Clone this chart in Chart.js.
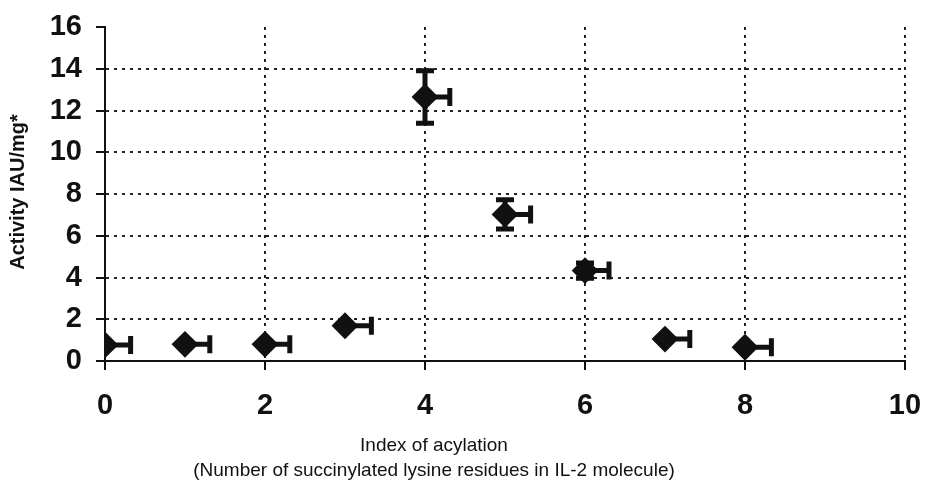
<!DOCTYPE html>
<html lang="en">
<head>
  <meta charset="UTF-8">
  <title>Activity vs index of acylation</title>
  <script src="https://cdn.jsdelivr.net/npm/chart.js"></script>
  <style>
    body {
      margin: 0;
      background: #fff;
    }
    canvas {
      display: block;
    }
  </style>
</head>
<body>
  <canvas id="activityChart" width="927" height="483"></canvas>

  <script>
    // values
    const acylationIndex = [0, 1, 2, 3, 4, 5, 6, 7, 8];
    const activity = [0.77, 0.8, 0.8, 1.69, 12.65, 7.02, 4.33, 1.05, 0.66];
    const activityErr = [0, 0, 0, 0, 1.26, 0.7, 0.37, 0, 0];
    const indexErrPlus = [0.32, 0.31, 0.31, 0.33, 0.31, 0.32, 0.3, 0.31, 0.33];

    const xTicks = [0, 2, 4, 6, 8, 10];
    const yTicks = [0, 2, 4, 6, 8, 10, 12, 14, 16];

    const xTitle = ['Index of acylation', '(Number of succinylated lysine residues in IL-2 molecule)'];
    const yTitle = 'Activity IAU/mg*';

    const ink = '#111';
    const fontFamily = '"Liberation Sans", Arial, sans-serif';

    // error bars: y both ways, x only to the right
    const errorBars = {
      id: 'errorBars',
      beforeDatasetsDraw(chart) {
        const ctx = chart.ctx;
        const xs = chart.scales.x, ys = chart.scales.y;
        ctx.save();
        ctx.strokeStyle = ink;
        ctx.lineCap = 'butt';
        ctx.lineWidth = 5;
        acylationIndex.forEach((xv, i) => {
          const px = xs.getPixelForValue(xv);
          const py = ys.getPixelForValue(activity[i]);
          // x error
          const ex = xs.getPixelForValue(xv + indexErrPlus[i]);
          ctx.beginPath();
          ctx.moveTo(px, py);
          ctx.lineTo(ex, py);
          ctx.moveTo(ex, py - 9);
          ctx.lineTo(ex, py + 9);
          ctx.stroke();
          // y error
          if (activityErr[i] > 0) {
            const top = ys.getPixelForValue(activity[i] + activityErr[i]);
            const bot = ys.getPixelForValue(activity[i] - activityErr[i]);
            ctx.beginPath();
            ctx.moveTo(px, top);
            ctx.lineTo(px, bot);
            ctx.moveTo(px - 9, top);
            ctx.lineTo(px + 9, top);
            ctx.moveTo(px - 9, bot);
            ctx.lineTo(px + 9, bot);
            ctx.stroke();
          }
        });
        ctx.restore();
      }
    };

    // axis titles
    const axisTitles = {
      id: 'axisTitles',
      afterDraw(chart) {
        const ctx = chart.ctx;
        ctx.save();
        ctx.fillStyle = ink;
        ctx.textAlign = 'center';
        ctx.textBaseline = 'middle';
        ctx.font = '19px ' + fontFamily;
        ctx.fillText(xTitle[0], 434, 446);
        ctx.fillText(xTitle[1], 434, 471);
        ctx.translate(18, 192);
        ctx.rotate(-Math.PI / 2);
        ctx.font = 'bold 20px ' + fontFamily;
        ctx.fillText(yTitle, 0, 0);
        ctx.restore();
      }
    };

    const ctx = document.getElementById('activityChart').getContext('2d');
    new Chart(ctx, {
      type: 'scatter',
      data: {
        datasets: [{
          label: 'Activity',
          data: acylationIndex.map((x, i) => ({ x, y: activity[i] })),
          pointStyle: 'rectRot',
          pointRadius: 12,
          pointHoverRadius: 12,
          backgroundColor: ink,
          borderColor: ink,
          borderWidth: 2
        }]
      },
      options: {
        responsive: false,
        animation: false,
        layout: {
          padding: { left: 0, top: 27, right: 22, bottom: 0 }
        },
        plugins: {
          legend: { display: false },
          tooltip: { enabled: false }
        },
        scales: {
          x: {
            type: 'linear',
            min: 0,
            max: 10,
            afterBuildTicks: scale => {
              scale.ticks = xTicks.map(v => ({ value: v }));
            },
            afterFit: scale => {
              scale.height = 122;
              scale.paddingLeft = 0;
              scale.paddingRight = 0;
            },
            ticks: {
              color: ink,
              padding: 19,
              maxRotation: 0,
              font: { family: fontFamily, size: 29, weight: 'bold' }
            },
            grid: {
              color: c => (c.tick && c.tick.value === 0) ? 'rgba(0,0,0,0)' : '#222',
              lineWidth: 2,
              tickColor: ink,
              tickLength: 9,
              tickWidth: 2
            },
            border: {
              display: true,
              color: ink,
              width: 2,
              dash: [3, 5]
            }
          },
          y: {
            min: 0,
            max: 16,
            afterBuildTicks: scale => {
              scale.ticks = yTicks.map(v => ({ value: v }));
            },
            afterFit: scale => {
              scale.width = 105;
              scale.paddingTop = 0;
              scale.paddingBottom = 0;
            },
            ticks: {
              color: ink,
              padding: 14,
              font: { family: fontFamily, size: 29, weight: 'bold' }
            },
            grid: {
              color: c => (c.tick && (c.tick.value === 0 || c.tick.value === 16)) ? 'rgba(0,0,0,0)' : '#222',
              lineWidth: 2,
              tickColor: ink,
              tickLength: 9,
              tickWidth: 2
            },
            border: {
              display: true,
              color: ink,
              width: 2,
              dash: [3, 5]
            }
          }
        }
      },
      plugins: [errorBars, axisTitles]
    });
  </script>
</body>
</html>
